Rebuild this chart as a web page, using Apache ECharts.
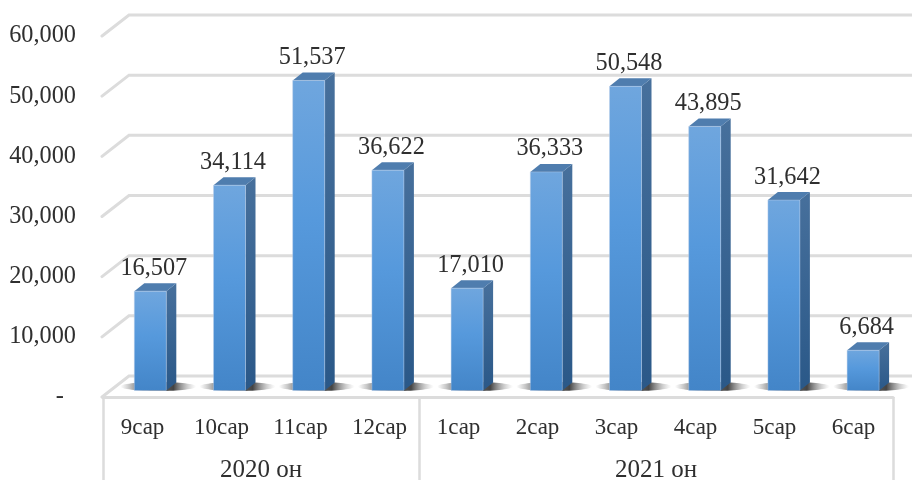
<!DOCTYPE html>
<html><head><meta charset="utf-8">
<style>html,body{margin:0;padding:0;background:#fff}#c{width:912px;height:480px}</style>
<script src="https://cdn.jsdelivr.net/npm/echarts@6/dist/echarts.min.js"></script>
</head><body><div id="c"></div>
<script>
const months = ['9сар','10сар','11сар','12сар','1сар','2сар','3сар','4сар','5сар','6сар'];
const values = [16507,34114,51537,36622,17010,36333,50548,43895,31642,6684];
const yTicks = [0,10000,20000,30000,40000,50000,60000];
const yearLabels = ['2020 он','2021 он'];
const yearCenters = [2,7];
const yearEdges = [0,4,10];

const FONT = '"Liberation Serif","Times New Roman",serif';
const TXT = '#2f2f2f';
const GRID = '#dcdcdc';
const DX = 7.8, DX_STEP = 0.2, FLOOR = 6.5, W = 32, DEPTH = 10, RISE = 8;

const grad = (x0,y0,x1,y1,a,b) => new echarts.graphic.LinearGradient(x0,y0,x1,y1,[{offset:0,color:a},{offset:1,color:b}]);

const chart = echarts.init(document.getElementById('c'));
chart.setOption({
  animation:false,
  backgroundColor:'#fff',
  grid:{left:103,right:19,top:36,bottom:83,containLabel:false,outerBoundsMode:'none'},
  xAxis:[
    {type:'category',data:months,position:'bottom',
     axisLine:{show:true,onZero:false,lineStyle:{color:GRID,width:3}},
     axisTick:{show:false},splitLine:{show:false},
     axisLabel:{interval:0,margin:19,fontFamily:FONT,fontSize:23,color:TXT}},
    {type:'value',min:0,max:10,position:'bottom',
     axisLine:{show:false},splitLine:{show:false},
     axisTick:{show:true,length:90,customValues:yearEdges,lineStyle:{color:GRID,width:2.5}},
     axisLabel:{customValues:yearCenters,margin:61,fontFamily:FONT,fontSize:25,color:TXT,
       formatter:v=>yearLabels[yearCenters.indexOf(v)]}}
  ],
  yAxis:{type:'value',min:0,max:60000,interval:10000,
    axisLine:{show:false},axisTick:{show:false},splitLine:{show:false},
    axisLabel:{margin:27,fontFamily:FONT,fontSize:24.3,color:TXT,padding:[4,0,0,0],
      formatter:v=>v===0?'-\u00a0\u00a0':v.toLocaleString('en-US')}},
  series:[
    {type:'custom',name:'wall',coordinateSystem:'cartesian2d',z:1,silent:true,clip:false,
     data:yTicks.map(v=>[0,v]),
     renderItem(p,api){
       const y=api.coord([0,api.value(1)])[1], x=p.coordSys.x;
       const s={stroke:GRID,lineWidth:3,fill:'none',lineCap:'round',lineJoin:'miter'};
       return {type:'polyline',shape:{points:[[x-1,y],[x+26,y-21],[912,y-21]]},style:s};
     }},
    {type:'custom',name:'shadow',coordinateSystem:'cartesian2d',z:2,silent:true,clip:false,
     data:values.map((v,i)=>[i,v]),
     renderItem(p,api){
       const c=api.coord([api.value(0),0]);
       const cx=c[0]+DX+DX_STEP*api.value(0)+8, cy=c[1]-FLOOR-4;
       return {type:'ellipse',shape:{cx,cy,rx:38,ry:4.5},
         style:{fill:new echarts.graphic.LinearGradient(0,0,1,0,[
           {offset:0,color:'rgba(120,120,120,0)'},{offset:.2,color:'rgba(80,80,80,.6)'},
           {offset:.7,color:'rgba(35,35,35,.85)'},{offset:1,color:'rgba(150,150,150,0)'}])}};
     }},
    {type:'custom',name:'bars',coordinateSystem:'cartesian2d',z:3,silent:true,clip:false,
     data:values.map((v,i)=>[i,v]),
     renderItem(p,api){
       const val=api.value(1);
       const b=api.coord([api.value(0),0]), t=api.coord([api.value(0),val]);
       const l=b[0]+DX+DX_STEP*api.value(0)-W/2, r=l+W, yb=b[1]-FLOOR, yt=t[1]-FLOOR;
       return {type:'group',children:[
         {type:'polygon',shape:{points:[[r,yt],[r+DEPTH,yt-RISE],[r+DEPTH,yb-RISE],[r,yb]]},
          style:{fill:grad(0,0,0,1,'#47709c','#2a5888')}},
         {type:'polygon',shape:{points:[[l,yt],[l+DEPTH,yt-RISE],[r+DEPTH,yt-RISE],[r,yt]]},
          style:{fill:'#4f7dae'}},
         {type:'rect',shape:{x:l,y:yt,width:W,height:yb-yt},
          style:{fill:new echarts.graphic.LinearGradient(0,0,0,1,[{offset:0,color:'#6fa6de'},{offset:.45,color:'#5699dc'},{offset:1,color:'#4385c8'}]),stroke:'rgba(190,210,235,.55)',lineWidth:.8}},
         {type:'text',x:(l+r)/2+3.5,y:yt-23,
          style:{text:val.toLocaleString('en-US'),fontFamily:FONT,fontSize:24.3,fill:TXT,align:'center',verticalAlign:'middle'}}
       ]};
     }}
  ]
});
</script></body></html>
